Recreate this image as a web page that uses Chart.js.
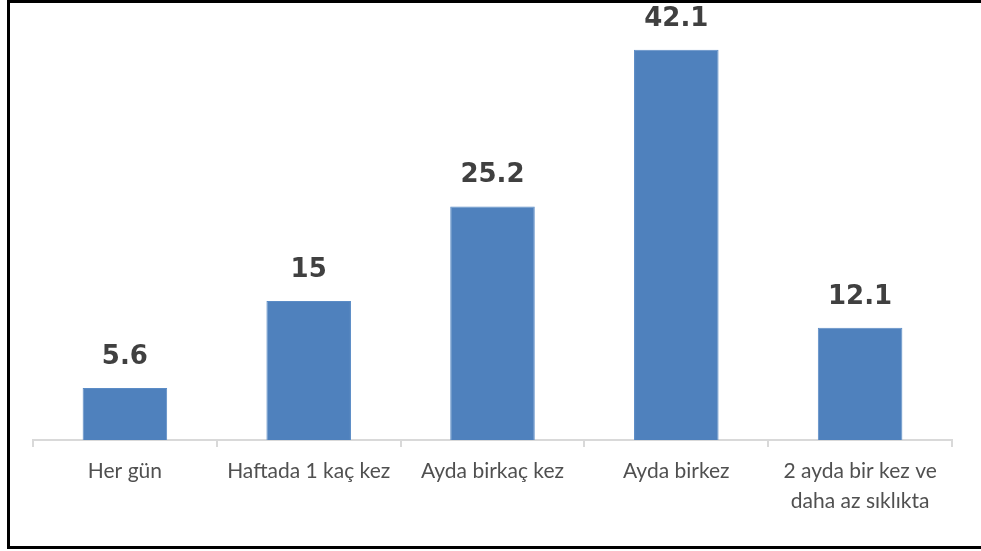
<!DOCTYPE html>
<html>
<head>
<meta charset="utf-8">
<script src="https://cdn.jsdelivr.net/npm/chart.js@4.4.1/dist/chart.umd.min.js"></script>
<style>
    html, body { margin: 0; padding: 0; background: #fff; overflow: hidden; }
    #wrap { position: relative; width: 981px; height: 551px; overflow: hidden; }
    #frame {
        position: absolute; left: 7px; top: 0; width: 974px; height: 549px;
        border-left: 3px solid #000; border-top: 3px solid #000; border-bottom: 3px solid #000;
        box-sizing: border-box; pointer-events: none;
    }
    canvas { position: absolute; left: 0; top: 0; }
</style>
</head>
<body>
<div id="wrap">
    <canvas id="chart" width="981" height="551"></canvas>
    <div id="frame"></div>
</div>
<script>
// Chart data
const categories = [
    'Her gün',
    'Haftada 1 kaç kez',
    'Ayda birkaç kez',
    'Ayda birkez',
    ['2 ayda bir kez ve', 'daha az sıklıkta']
];
const values = [5.6, 15, 25.2, 42.1, 12.1];
const valueLabels = ['5.6', '15', '25.2', '42.1', '12.1'];

/**
 * Draw value labels above each bar
 */
const barValueLabels = {
    id: 'barValueLabels',
    afterDatasetsDraw(chart) {
        const ctx = chart.ctx;
        const meta = chart.getDatasetMeta(0);
        ctx.save();
        ctx.font = "bold 26px 'DejaVu Sans', sans-serif";
        ctx.fillStyle = '#404040';
        ctx.textAlign = 'center';
        ctx.textBaseline = 'alphabetic';
        meta.data.forEach(function(bar, i) {
            ctx.fillText(valueLabels[i], bar.x, bar.y - 24);
        });
        ctx.restore();
    }
};

new Chart(document.getElementById('chart'), {
    type: 'bar',
    data: {
        labels: categories,
        datasets: [{
            data: values,
            backgroundColor: '#4f81bd',
            borderColor: '#5b8cc6',
            borderWidth: 1,
            categoryPercentage: 1,
            barPercentage: 0.46
        }]
    },
    options: {
        responsive: false,
        animation: false,
        layout: {
            padding: { left: 33, right: 29, top: 23, bottom: 0 }
        },
        plugins: {
            legend: { display: false },
            tooltip: { enabled: false }
        },
        scales: {
            y: {
                display: false,
                min: 0,
                max: 45
            },
            x: {
                afterFit: function(scale) { scale.height = 111; },
                border: { color: '#d9d9d9', width: 2 },
                grid: {
                    drawOnChartArea: false,
                    color: '#d9d9d9',
                    lineWidth: 2,
                    tickLength: 7
                },
                ticks: {
                    color: '#505050',
                    padding: 9,
                    maxRotation: 0,
                    autoSkip: false,
                    font: { family: "'Lato', sans-serif", size: 21, lineHeight: 1.45 }
                }
            }
        }
    },
    plugins: [barValueLabels]
});
</script>
</body>
</html>
